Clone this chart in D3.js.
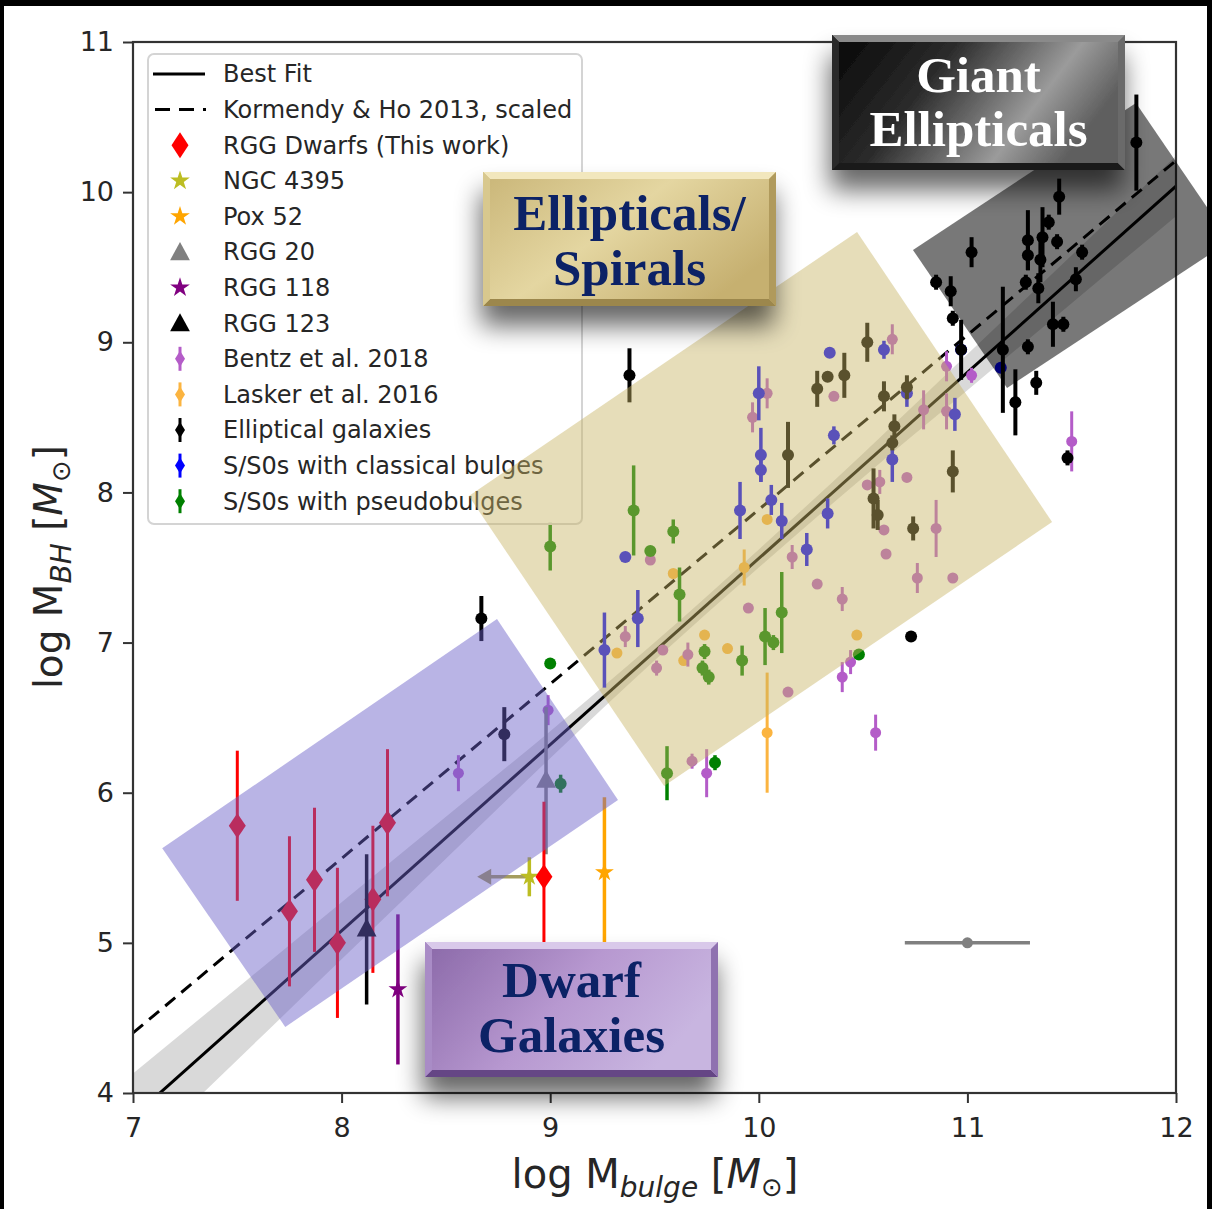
<!DOCTYPE html>
<html>
<head>
<meta charset="utf-8">
<script src="https://cdn.jsdelivr.net/npm/d3@7"></script>
<style>
  body { margin: 0; background: #fff; }
  svg { display: block; }
</style>
</head>
<body>
<script>
// ---------- Data: log M_bulge, log M_BH, error in log M_BH ----------
const bestFitX = [7, 12];
const bestFitY = [3.84, 10.04];
const kormendyX = [7, 12];
const kormendyY = [4.40, 10.21];
const bandX    = [7, 7.5, 8, 8.5, 9, 9.5, 10, 10.5, 11, 11.5, 12];
const bandHalf = [0.29, 0.24, 0.19, 0.14, 0.09, 0.06, 0.06, 0.08, 0.12, 0.16, 0.20];

const rggDwarfs = [[7.50,5.78,0.5],[7.75,5.21,0.5],[7.87,5.42,0.48],[7.98,5.00,0.5],
                   [8.15,5.29,0.49],[8.22,5.80,0.49],[8.97,5.44,0.5]];
const ngc4395 = [8.90, 5.44, 0.13];
const ngc4395LimitX = 8.65;
const pox52  = [9.26, 5.47, 0.5];
const rgg20  = [8.98, 6.08, 0.49];
const rgg118 = [8.27, 4.69, 0.5];
const rgg123 = [8.12, 5.09, 0.5];
const typicalErr = [11.0, 5.0, 0.3]; // horizontal error in log M_bulge

const ellipticals = [
  [9.38,8.78,0.18],[8.67,7.16,0.15],[8.78,6.39,0.18],[10.73,7.04,0],
  [10.52,9.00,0.13],[10.60,8.64,0.10],[10.65,8.44,0.08],[10.64,8.33,0.05],
  [10.55,7.96,0.20],[10.57,7.85,0.10],[10.74,7.76,0.08],[10.93,8.14,0.14],
  [10.28,8.69,0.12],[10.33,8.77,0.03],[10.41,8.78,0.15],[10.14,8.25,0.22],
  [10.71,8.70,0.08],[10.85,9.40,0.05],[10.92,9.34,0.10],[10.93,9.16,0.05],
  [11.02,9.60,0.10],[10.97,8.95,0.20],[11.17,8.95,0.42],[11.23,8.60,0.22],
  [11.33,8.73,0.08],[11.29,8.97,0.05],[11.44,9.97,0.12],[11.81,10.33,0.32],
  [11.29,9.68,0.20],[11.29,9.58,0.10],[11.28,9.40,0.05],[11.34,9.36,0.10],
  [11.35,9.55,0.15],[11.36,9.70,0.20],[11.39,9.80,0.05],[11.43,9.67,0.05],
  [11.55,9.60,0.05],[11.52,9.42,0.08],[11.41,9.12,0.15],[11.46,9.12,0.05],
  [11.48,8.23,0.05]
];
const classical = [
  [10.00,8.66,0.18],[10.01,8.25,0.18],[10.01,8.15,0.08],[9.91,7.88,0.19],
  [10.06,7.95,0.10],[10.11,7.81,0.12],[10.33,7.86,0.10],[10.23,7.62,0.11],
  [10.34,8.93,0],[10.36,8.38,0.06],[10.60,8.95,0.06],[10.71,8.66,0.09],
  [10.64,8.22,0.15],[10.94,8.52,0.11],[9.26,6.95,0.25],[9.42,7.16,0.19],
  [9.36,7.57,0],[10.97,8.95,0],[11.16,8.83,0]
];
const pseudo = [
  [9.40,7.88,0.30],[9.00,7.64,0.16],[9.59,7.74,0.08],[9.48,7.61,0],
  [9.62,7.32,0.18],[10.11,7.20,0.27],[10.03,7.04,0.19],[10.07,7.00,0.05],
  [9.74,6.94,0.05],[9.73,6.83,0.05],[9.76,6.77,0.05],[9.92,6.88,0.10],
  [9.00,6.86,0],[9.56,6.13,0.18],[9.79,6.20,0.05],[9.05,6.06,0.06],
  [10.48,6.92,0]
];
const lasker = [
  [10.04,7.82,0],[9.59,7.46,0],[9.93,7.50,0.12],[9.32,6.93,0],
  [9.64,6.88,0],[9.74,7.05,0],[9.85,6.96,0],[10.04,6.40,0.40],[10.47,7.05,0]
];
const bentz = [
  [8.56,6.13,0.12],[8.99,6.55,0.10],[10.04,8.66,0.10],[9.97,8.50,0.10],
  [10.36,8.64,0],[10.16,7.57,0.08],[10.28,7.39,0],[10.40,7.29,0.08],
  [9.95,7.23,0],[9.36,7.04,0.07],[9.54,6.95,0],[9.51,6.83,0.05],
  [9.66,6.92,0.08],[10.14,6.67,0],[9.48,7.55,0],[9.68,6.21,0.05],
  [9.75,6.13,0.16],[10.64,9.02,0.10],[10.52,8.05,0],[10.58,8.07,0.08],
  [10.71,8.10,0],[10.60,7.75,0],[10.85,7.76,0.19],[10.61,7.59,0],
  [10.76,7.43,0.10],[10.93,7.43,0],[10.79,8.55,0.13],[10.90,8.54,0.12],
  [10.90,8.84,0.10],[10.44,6.87,0.08],[10.40,6.77,0.10],[10.56,6.40,0.12],
  [11.02,8.78,0.05],[11.50,8.34,0.20]
];

const xTicks = [7, 8, 9, 10, 11, 12];
const yTicks = [4, 5, 6, 7, 8, 9, 10, 11];
const legendLabels = ["Best Fit", "Kormendy & Ho 2013, scaled", "RGG Dwarfs (This work)",
  "NGC 4395", "Pox 52", "RGG 20", "RGG 118", "RGG 123", "Bentz et al. 2018",
  "Lasker et al. 2016", "Elliptical galaxies", "S/S0s with classical bulges",
  "S/S0s with pseudobulges"];

// Shaded regions (corners in data units): dwarfs, ellipticals/spirals, giant ellipticals
const dwarfRegion  = [[7.14,5.63],[8.745,7.157],[9.325,5.952],[7.73,4.44]];
const spiralRegion = [[8.61,7.976],[10.471,9.735],[11.406,7.803],[9.546,6.045]];
const giantRegion  = [[10.739,9.615],[11.808,10.594],[12.259,9.675],[11.19,8.696]];

// ---------- Colours ----------
const C = {
  red: "#ff0000", ngc: "#bcbd22", ngcArrow: "#a59d5e", pox: "#ffa500", rgg20: "#808080",
  rgg118: "#800080", rgg123: "#000000", bentz: "#b45cc8", lasker: "#fbb440",
  ell: "#000000", cls: "#0000ff", pse: "#008000"
};

const W = 1212, H = 1209;
const x = d3.scaleLinear().domain([7, 12]).range([133, 1176]);
const y = d3.scaleLinear().domain([4, 11]).range([1093, 42]);

const svg = d3.select("body").append("svg").attr("width", W).attr("height", H)
  .style("font-family", "'DejaVu Sans', sans-serif");
svg.append("rect").attr("width", W).attr("height", H).attr("fill", "#fff");

const defs = svg.append("defs");
defs.append("clipPath").attr("id", "plotClip").append("rect")
  .attr("x", 133).attr("y", 42).attr("width", 1176 - 133).attr("height", 1093 - 42);

const shadow = defs.append("filter").attr("id", "boxShadow")
  .attr("x", "-40%").attr("y", "-40%").attr("width", "180%").attr("height", "200%");
shadow.append("feGaussianBlur").attr("in", "SourceAlpha").attr("stdDeviation", 13).attr("result", "b");
shadow.append("feOffset").attr("in", "b").attr("dx", -2).attr("dy", 20).attr("result", "o");
shadow.append("feComponentTransfer").attr("in", "o").attr("result", "s")
  .append("feFuncA").attr("type", "linear").attr("slope", 0.6);
const merge = shadow.append("feMerge");
merge.append("feMergeNode").attr("in", "s");
merge.append("feMergeNode").attr("in", "SourceGraphic");

function grad(id, stops, x2, y2) {
  const g = defs.append("linearGradient").attr("id", id)
    .attr("x1", 0).attr("y1", 0).attr("x2", x2).attr("y2", y2);
  stops.forEach(s => g.append("stop").attr("offset", s[0]).attr("stop-color", s[1]));
}
grad("gGiant", [[0, "#050505"], [0.4, "#2c2c2c"], [0.78, "#9b9b9b"], [1, "#5e5e5e"]], 1, 0.35);
grad("gSpiral", [[0, "#c9b577"], [0.5, "#e4d6a1"], [1, "#c6b070"]], 1, 0.6);
grad("gDwarf", [[0, "#8a68a8"], [0.55, "#b798d0"], [1, "#c8b5e0"]], 1, 0.4);

// ---------- Confidence band and relations ----------
const plot = svg.append("g").attr("clip-path", "url(#plotClip)");
const bandData = bandX.map((v, i) => {
  const fit = bestFitY[0] + (bestFitY[1] - bestFitY[0]) * (v - bestFitX[0]) / (bestFitX[1] - bestFitX[0]);
  return { x: v, lo: fit - bandHalf[i], hi: fit + bandHalf[i] };
});
plot.append("path").datum(bandData)
  .attr("d", d3.area().x(d => x(d.x)).y0(d => y(d.lo)).y1(d => y(d.hi)).curve(d3.curveMonotoneX))
  .attr("fill", "#000").attr("fill-opacity", 0.15);
plot.append("line").attr("x1", x(bestFitX[0])).attr("y1", y(bestFitY[0]))
  .attr("x2", x(bestFitX[1])).attr("y2", y(bestFitY[1]))
  .attr("stroke", "#000").attr("stroke-width", 3);
plot.append("line").attr("x1", x(kormendyX[0])).attr("y1", y(kormendyY[0]))
  .attr("x2", x(kormendyX[1])).attr("y2", y(kormendyY[1]))
  .attr("stroke", "#000").attr("stroke-width", 3).attr("stroke-dasharray", "13,8");

// ---------- Points ----------
const pts = svg.append("g");
function errPoints(data, color, r, ew) {
  const g = pts.append("g");
  g.selectAll("line").data(data.filter(d => d[2] > 0)).join("line")
    .attr("x1", d => x(d[0])).attr("x2", d => x(d[0]))
    .attr("y1", d => y(d[1] - d[2])).attr("y2", d => y(d[1] + d[2]))
    .attr("stroke", color).attr("stroke-width", ew);
  g.selectAll("circle").data(data).join("circle")
    .attr("cx", d => x(d[0])).attr("cy", d => y(d[1])).attr("r", r).attr("fill", color);
}
errPoints(lasker, C.lasker, 5.5, 3);
errPoints(bentz, C.bentz, 5.5, 3);
errPoints(pseudo, C.pse, 6, 3.5);
errPoints(classical, C.cls, 6, 3.5);
errPoints(ellipticals, C.ell, 6, 4);

function vbar(d, color, w) {
  pts.append("line").attr("x1", x(d[0])).attr("x2", x(d[0]))
    .attr("y1", y(d[1] - d[2])).attr("y2", y(d[1] + d[2]))
    .attr("stroke", color).attr("stroke-width", w);
}
const diamondPath = (cx, cy, w, h) => `M${cx},${cy - h}L${cx + w},${cy}L${cx},${cy + h}L${cx - w},${cy}Z`;
const triPath = (cx, cy, s) => `M${cx},${cy - s}L${cx + s * 0.9},${cy + s * 0.65}L${cx - s * 0.9},${cy + s * 0.65}Z`;
const star = d3.symbol().type(d3.symbolStar);

// typical uncertainty in bulge mass
pts.append("line").attr("x1", x(typicalErr[0] - typicalErr[2])).attr("x2", x(typicalErr[0] + typicalErr[2]))
  .attr("y1", y(typicalErr[1])).attr("y2", y(typicalErr[1])).attr("stroke", "#808080").attr("stroke-width", 3.5);
pts.append("circle").attr("cx", x(typicalErr[0])).attr("cy", y(typicalErr[1])).attr("r", 5.5).attr("fill", "#808080");

// RGG 20
vbar(rgg20, C.rgg20, 3.5);
pts.append("path").attr("d", triPath(x(rgg20[0]), y(rgg20[1]), 11)).attr("fill", C.rgg20);
// NGC 4395 with upper limit on bulge mass
pts.append("line").attr("x1", x(ngc4395[0])).attr("x2", x(ngc4395LimitX) + 8)
  .attr("y1", y(ngc4395[1])).attr("y2", y(ngc4395[1])).attr("stroke", C.ngcArrow).attr("stroke-width", 3.5);
pts.append("path").attr("d", `M${x(ngc4395LimitX)},${y(ngc4395[1])}l14,-8l0,16Z`).attr("fill", C.ngcArrow);
vbar(ngc4395, C.ngc, 3.5);
pts.append("path").attr("transform", `translate(${x(ngc4395[0])},${y(ngc4395[1])})`)
  .attr("d", star.size(110)()).attr("fill", C.ngc);
// Pox 52
vbar(pox52, C.pox, 3.5);
pts.append("path").attr("transform", `translate(${x(pox52[0])},${y(pox52[1])})`)
  .attr("d", star.size(110)()).attr("fill", C.pox);
// RGG dwarfs
rggDwarfs.forEach(d => {
  vbar(d, C.red, 3);
  pts.append("path").attr("d", diamondPath(x(d[0]), y(d[1]), 8.5, 12.5)).attr("fill", C.red);
});
// RGG 118 and RGG 123
vbar(rgg118, C.rgg118, 3.5);
pts.append("path").attr("transform", `translate(${x(rgg118[0])},${y(rgg118[1])})`)
  .attr("d", star.size(110)()).attr("fill", C.rgg118);
vbar(rgg123, C.rgg123, 3.5);
pts.append("path").attr("d", triPath(x(rgg123[0]), y(rgg123[1]), 11)).attr("fill", C.rgg123);

// ---------- Legend ----------
const leg = svg.append("g");
leg.append("rect").attr("x", 148).attr("y", 54).attr("width", 434).attr("height", 470)
  .attr("rx", 6).attr("fill", "#fff").attr("fill-opacity", 0.8)
  .attr("stroke", "#d4d4d4").attr("stroke-width", 2);
const ly = i => 74 + i * 35.6;
legendLabels.forEach((t, i) => {
  leg.append("text").attr("x", 223).attr("y", ly(i)).attr("dy", "0.35em")
    .attr("font-size", 24).attr("fill", "#262626").text(t);
});
leg.append("line").attr("x1", 153).attr("x2", 205).attr("y1", ly(0)).attr("y2", ly(0))
  .attr("stroke", "#000").attr("stroke-width", 3);
leg.append("line").attr("x1", 155).attr("x2", 206).attr("y1", ly(1)).attr("y2", ly(1))
  .attr("stroke", "#000").attr("stroke-width", 3).attr("stroke-dasharray", "15,9,15,9,3");
leg.append("path").attr("d", diamondPath(180, ly(2), 8.5, 13)).attr("fill", C.red);
[[3, C.ngc], [4, C.pox], [6, C.rgg118]].forEach(([i, c]) => {
  leg.append("path").attr("transform", `translate(180,${ly(i)})`).attr("d", star.size(120)()).attr("fill", c);
});
leg.append("path").attr("d", triPath(180, ly(5) + 1, 11)).attr("fill", C.rgg20);
leg.append("path").attr("d", triPath(180, ly(7) + 1, 11)).attr("fill", C.rgg123);
[[8, C.bentz], [9, C.lasker], [10, C.ell], [11, C.cls], [12, C.pse]].forEach(([i, c]) => {
  leg.append("line").attr("x1", 180).attr("x2", 180).attr("y1", ly(i) - 12).attr("y2", ly(i) + 12)
    .attr("stroke", c).attr("stroke-width", 3);
  leg.append("path").attr("d", diamondPath(180, ly(i), 5, 8)).attr("fill", c);
});

// ---------- Axes ----------
const axes = svg.append("g");
axes.append("rect").attr("x", 133).attr("y", 42).attr("width", 1176 - 133).attr("height", 1093 - 42)
  .attr("fill", "none").attr("stroke", "#333").attr("stroke-width", 2.2);
const xAxis = axes.append("g").attr("transform", "translate(0,1093)")
  .call(d3.axisBottom(x).tickValues(xTicks).tickFormat(d3.format("d")).tickSize(10).tickPadding(15));
const yAxis = axes.append("g").attr("transform", "translate(133,0)")
  .call(d3.axisLeft(y).tickValues(yTicks).tickFormat(d3.format("d")).tickSize(10).tickPadding(9));
[xAxis, yAxis].forEach(a => {
  a.select(".domain").remove();
  a.selectAll(".tick line").attr("stroke", "#333").attr("stroke-width", 2);
  a.selectAll(".tick text").attr("fill", "#262626").attr("font-size", 27)
    .attr("font-family", "'DejaVu Sans', sans-serif");
});

const xl = axes.append("text").attr("x", 655).attr("y", 1188).attr("text-anchor", "middle")
  .attr("font-size", 40).attr("fill", "#262626");
xl.append("tspan").text("log M");
xl.append("tspan").attr("font-style", "italic").attr("font-size", 28).attr("dy", 9).text("bulge");
xl.append("tspan").attr("dy", -9).text(" [");
xl.append("tspan").attr("font-style", "italic").text("M");
xl.append("tspan").attr("font-size", 26).attr("dy", 8).text("\u2299");
xl.append("tspan").attr("dy", -8).text("]");

const yl = axes.append("text").attr("transform", "translate(62,567) rotate(-90)")
  .attr("text-anchor", "middle").attr("font-size", 39).attr("fill", "#262626");
yl.append("tspan").text("log M");
yl.append("tspan").attr("font-style", "italic").attr("font-size", 28).attr("dy", 9).text("BH");
yl.append("tspan").attr("dy", -9).text(" [");
yl.append("tspan").attr("font-style", "italic").text("M");
yl.append("tspan").attr("font-size", 26).attr("dy", 8).text("\u2299");
yl.append("tspan").attr("dy", -8).text("]");

// ---------- Shaded galaxy-type regions ----------
const regionPath = pts => "M" + pts.map(p => `${x(p[0])},${y(p[1])}`).join("L") + "Z";
svg.append("path").attr("d", regionPath(dwarfRegion)).attr("fill", "rgb(106,96,200)").attr("fill-opacity", 0.47);
svg.append("path").attr("d", regionPath(spiralRegion)).attr("fill", "rgb(200,180,100)").attr("fill-opacity", 0.45);
svg.append("path").attr("d", regionPath(giantRegion)).attr("fill", "#000").attr("fill-opacity", 0.53);

// ---------- Region label boxes ----------
function labelBox(bx, by, bw, bh, fillId, bevel, lines, baselines, textColor) {
  const g = svg.append("g");
  const b = 7;
  g.append("rect").attr("x", bx).attr("y", by).attr("width", bw).attr("height", bh)
    .attr("fill", `url(#${fillId})`).attr("filter", "url(#boxShadow)");
  const x0 = bx, x1 = bx + bw, y0 = by, y1 = by + bh;
  const faces = [
    [[x0, y0], [x1, y0], [x1 - b, y0 + b], [x0 + b, y0 + b], bevel.top],
    [[x0, y1], [x1, y1], [x1 - b, y1 - b], [x0 + b, y1 - b], bevel.bottom],
    [[x0, y0], [x0 + b, y0 + b], [x0 + b, y1 - b], [x0, y1], bevel.left],
    [[x1, y0], [x1 - b, y0 + b], [x1 - b, y1 - b], [x1, y1], bevel.right]
  ];
  faces.forEach(f => g.append("path").attr("d", "M" + f.slice(0, 4).map(p => p.join(",")).join("L") + "Z")
    .attr("fill", f[4]));
  lines.forEach((t, i) => g.append("text").attr("x", bx + bw / 2).attr("y", by + baselines[i])
    .attr("text-anchor", "middle").attr("font-family", "'Liberation Serif', 'Times New Roman', serif")
    .attr("font-weight", "bold").attr("font-size", 51).attr("fill", textColor).text(t));
}
labelBox(832, 35, 293, 135, "gGiant",
  { top: "#8a8a8a", bottom: "#1a1a1a", left: "#2a2a2a", right: "#6a6a6a" },
  ["Giant", "Ellipticals"], [57, 111], "#ffffff");
labelBox(483, 172, 293, 134, "gSpiral",
  { top: "#f2e7bd", bottom: "#9c874c", left: "#d8c88e", right: "#b09a5c" },
  ["Ellipticals/", "Spirals"], [58, 113], "#0c2266");
labelBox(425, 942, 293, 135, "gDwarf",
  { top: "#d9c9ea", bottom: "#654685", left: "#a98cc6", right: "#8f72b0" },
  ["Dwarf", "Galaxies"], [55, 110], "#0c2266");

// ---------- Dark frame ----------
svg.append("rect").attr("x", 0).attr("y", 0).attr("width", W).attr("height", 6).attr("fill", "#000");
svg.append("rect").attr("x", 0).attr("y", 0).attr("width", 4).attr("height", H).attr("fill", "#000");
svg.append("rect").attr("x", W - 5).attr("y", 0).attr("width", 5).attr("height", H).attr("fill", "#000");
</script>
</body>
</html>
